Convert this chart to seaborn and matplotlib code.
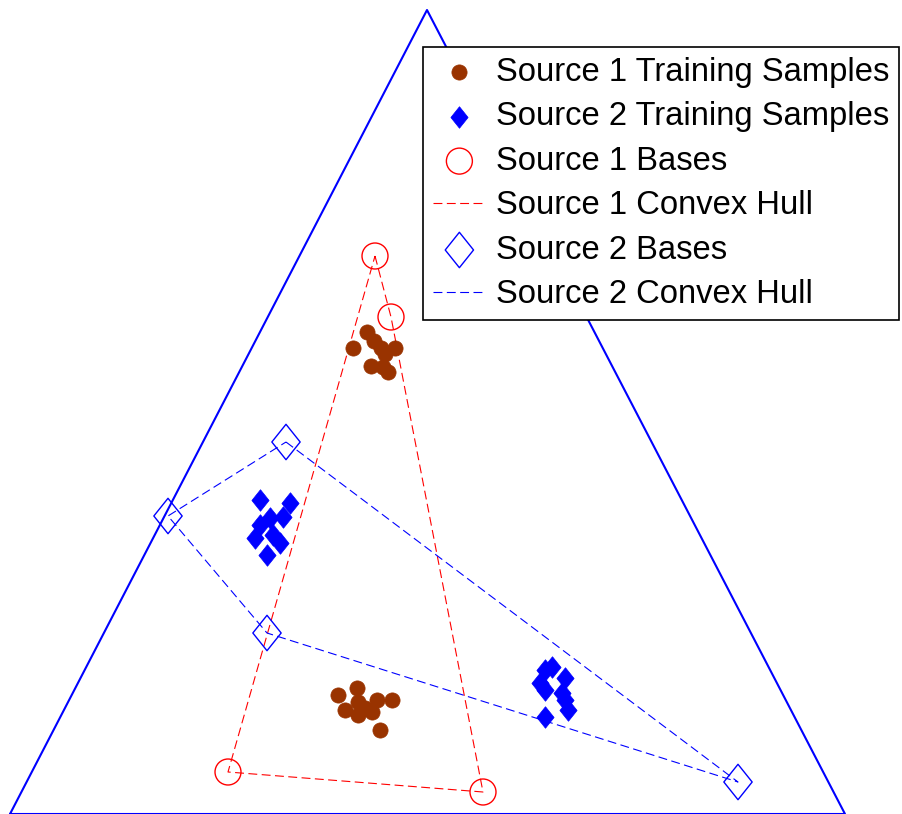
import numpy as np
import matplotlib
matplotlib.use("Agg")
import matplotlib.pyplot as plt
import seaborn as sns
from matplotlib.path import Path
from matplotlib.markers import MarkerStyle

sns.set_style("white")
plt.rcParams['font.family'] = ['Liberation Sans', 'DejaVu Sans']

# ---- data (projected 2-D coordinates) ----
tri_x = [10, 427, 845, 10]
tri_y = [814, 10, 814, 814]

s1_train_x = [367, 353, 374, 381, 385, 395, 371, 383, 388,
              338, 357, 358, 377, 392, 345, 358, 372, 380, 365]
s1_train_y = [332, 348, 341, 348, 354, 348, 366, 367, 372,
              695, 688, 702, 700, 700, 710, 715, 712, 730, 708]

s2_train_x = [260, 290, 270, 283, 260, 273, 255, 280, 267,
              545, 552, 565, 540, 545, 562, 565, 568, 545]
s2_train_y = [500, 503, 518, 517, 525, 535, 538, 543, 555,
              670, 667, 678, 683, 690, 693, 700, 710, 717]

s1_base_x = [375, 391, 483, 228]
s1_base_y = [256, 317, 792, 772]

s2_base_x = [286, 738, 267, 168]
s2_base_y = [442, 782, 633, 516]

labels = ["Source 1 Training Samples", "Source 2 Training Samples",
          "Source 1 Bases", "Source 1 Convex Hull",
          "Source 2 Bases", "Source 2 Convex Hull"]

brown = "#993300"
red = "#ff0000"
blue = "#0000ff"

diamond = MarkerStyle(Path([(0, 1), (0.8, 0), (0, -1), (-0.8, 0), (0, 1)],
                           [Path.MOVETO, Path.LINETO, Path.LINETO, Path.LINETO, Path.CLOSEPOLY]))

fig = plt.figure(figsize=(9.02, 8.14), dpi=100)
ax = fig.add_axes([0, 0, 1, 1])

sns.lineplot(x=tri_x, y=tri_y, sort=False, estimator=None, color=blue,
             linewidth=1.5, ax=ax, label="_tri")

sns.lineplot(x=s1_base_x + s1_base_x[:1], y=s1_base_y + s1_base_y[:1], sort=False,
             estimator=None, color=red, linewidth=0.8, linestyle=(0, (8, 4)),
             ax=ax, label=labels[3])
sns.lineplot(x=s2_base_x + s2_base_x[:1], y=s2_base_y + s2_base_y[:1], sort=False,
             estimator=None, color=blue, linewidth=0.8, linestyle=(0, (8, 4)),
             ax=ax, label=labels[5])

sns.scatterplot(x=s1_train_x, y=s1_train_y, color=brown, edgecolor=brown,
                marker='o', s=120, linewidth=0.5, ax=ax, label=labels[0], zorder=3)
sns.scatterplot(x=s2_train_x, y=s2_train_y, color=blue, edgecolor=blue,
                marker=diamond, s=240, linewidth=0.5, ax=ax, label=labels[1], zorder=3)
sns.scatterplot(x=s1_base_x, y=s1_base_y, color=red, facecolor='none', edgecolor=red,
                marker='o', s=350, linewidth=1.0, ax=ax, label=labels[2], zorder=4)
sns.scatterplot(x=s2_base_x, y=s2_base_y, color=blue, facecolor='none', edgecolor=blue,
                marker=diamond, s=650, linewidth=1.0, ax=ax, label=labels[4], zorder=4)

ax.set_xlim(0, 902)
ax.set_ylim(814, 0)
ax.axis('off')

h, l = ax.get_legend_handles_labels()
hd = dict(zip(l, h))
leg = ax.legend([hd[k] for k in labels], labels, loc='upper left',
                bbox_to_anchor=(423 / 902, 1 - 47 / 814), borderaxespad=0,
                fontsize=23.6, frameon=True, fancybox=False, framealpha=1,
                edgecolor='black', handlelength=1.62, handletextpad=0.3,
                labelspacing=0.41, borderpad=0.3, markerscale=1.0,
                labelcolor='black')
leg.get_frame().set_linewidth(1.2)
leg.set_zorder(10)

fig.savefig("out.png", dpi=100)
